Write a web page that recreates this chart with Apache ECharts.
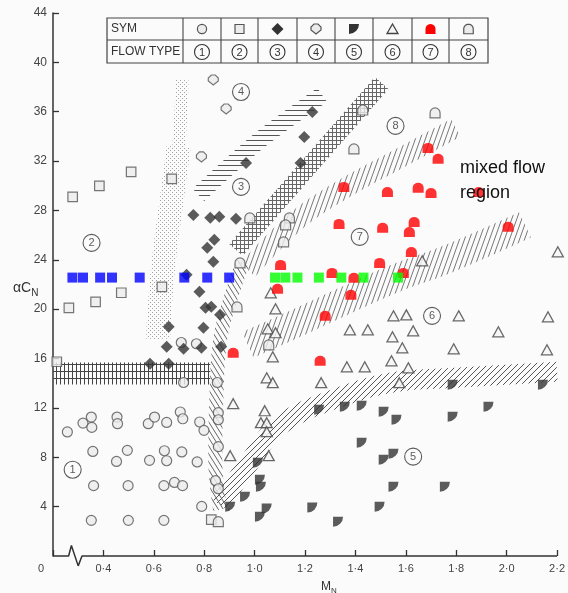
<!DOCTYPE html>
<html><head><meta charset="utf-8">
<script src="https://cdn.jsdelivr.net/npm/echarts@6/dist/echarts.min.js"></script>
<style>html,body{margin:0;padding:0;background:#fbfbfb}#c{width:568px;height:593px}</style>
</head><body><div id="c"></div>
<script>
// ---------------- data (x = M_N, y = αC_N) ----------------
const xTicks = [0.2,0.4,0.6,0.8,1.0,1.2,1.4,1.6,1.8,2.0,2.2];
const yTicks = [4,8,12,16,20,24,28,32,36,40,44];
const flowTypes = ['1','2','3','4','5','6','7','8'];

const type1 = [[0.257,10.05],[0.319,10.77],[0.352,11.26],[0.354,10.42],[0.454,11.26],[0.456,10.72],[0.578,10.72],[0.603,11.26],[0.651,10.82],[0.705,11.67],[0.715,11.12],[0.782,10.86],[0.799,10.18],[0.856,11.61],[0.856,11.04],[0.358,8.47],[0.495,8.56],[0.642,8.53],[0.711,8.43],[0.452,7.66],[0.583,7.75],[0.651,7.72],[0.772,7.62],[0.361,5.70],[0.498,5.70],[0.640,5.70],[0.682,5.96],[0.714,5.70],[0.845,6.10],[0.856,5.45],[0.790,4.02],[0.352,2.89],[0.499,2.89],[0.640,2.89],[0.709,17.30],[0.769,17.20],[0.718,14.06],[0.852,14.06],[0.856,8.86]];
const type2 = [[0.278,29.10],[0.384,29.99],[0.510,31.12],[0.671,30.56],[0.263,20.11],[0.369,20.60],[0.471,21.33],[0.632,21.81],[0.215,15.74],[0.828,2.94]];
const type3 = [[1.229,35.98],[1.197,33.96],[0.966,31.85],[1.182,31.85],[0.757,27.64],[0.824,27.40],[0.860,27.48],[0.926,27.32],[0.840,25.62],[0.812,24.97],[0.836,23.84],[0.730,22.78],[0.781,21.41],[0.805,20.11],[0.828,20.19],[0.863,19.54],[0.797,18.49],[0.659,18.57],[0.651,16.95],[0.718,16.79],[0.789,16.87],[0.867,16.95],[0.585,15.58],[0.659,15.58]];
const type4 = [[0.836,38.57],[0.887,36.22],[0.789,32.34]];
const type5 = [[1.013,7.56],[1.021,6.18],[1.025,5.62],[0.962,4.81],[0.903,4.00],[1.021,3.19],[1.048,3.84],[1.256,11.85],[1.358,12.09],[1.425,12.18],[1.512,11.69],[1.563,11.04],[1.425,9.18],[1.786,13.88],[2.144,13.88],[1.786,11.28],[1.928,12.09],[1.512,7.80],[1.551,8.29],[1.551,5.62],[1.755,5.62],[1.496,4.00],[1.229,3.92],[1.331,2.78]];
const type6 = [[1.665,23.92],[2.203,24.65],[1.064,21.33],[1.083,20.03],[1.052,18.41],[1.083,18.09],[1.072,16.14],[1.048,14.44],[1.072,14.04],[1.264,14.04],[1.366,15.33],[1.437,15.33],[1.378,18.33],[1.449,18.33],[1.551,19.46],[1.602,19.54],[1.810,19.46],[2.164,19.38],[1.629,18.25],[1.967,18.17],[1.547,17.76],[1.586,16.87],[1.790,16.79],[2.160,16.71],[1.543,15.82],[1.610,15.25],[1.574,14.04],[0.915,12.34],[1.040,11.77],[1.025,10.80],[1.048,10.80],[1.048,10.07],[0.903,8.13],[1.056,8.13]];
const type7 = [[1.688,33.07],[1.728,32.18],[1.354,29.91],[1.527,29.50],[1.649,29.83],[1.700,29.42],[1.889,29.50],[1.335,26.91],[1.508,26.59],[1.633,27.07],[1.614,26.26],[2.006,26.67],[1.622,24.64],[1.496,23.75],[1.590,22.94],[1.103,23.59],[1.307,22.94],[1.394,22.54],[1.091,21.65],[1.382,21.16],[1.280,19.46],[0.915,16.47],[1.260,15.82]];
const type8 = [[1.429,36.14],[1.394,32.99],[1.716,35.90],[0.981,27.40],[1.138,27.40],[1.123,26.83],[1.115,25.45],[0.942,23.75],[0.930,20.19],[1.056,17.11],[0.856,2.78]];

const markY = 22.56;
const blueX = [0.277,0.319,0.387,0.434,0.544,0.721,0.812,0.899];
const greenX = [1.081,1.122,1.170,1.255,1.344,1.432,1.569];

// region labels (circled flow type numbers)
const regionX = [0.278,0.353,0.946,0.946,1.629,1.704,1.417,1.559];
const regionY = [6.99,25.37,29.91,37.60,8.05,19.46,25.86,34.85];

// boundary bands
const bandA = [[0.2,14.78],[0.824,14.78]];
const bandB = [[0.712,38.57],[0.699,33.20],[0.671,28.86],[0.640,24.00],[0.620,19.14],[0.618,17.60]];
const bandC = [[0.777,29.26],[1.021,33.71],[1.268,37.36]];
const bandD = [[0.926,24.81],[1.504,38.33]];
const bandE = [[0.973,23.19],[1.170,27.24],[1.347,29.67],[1.563,32.09],[1.798,34.69]];
const bandG = [[0.973,17.11],[1.170,18.90],[1.366,20.76],[1.563,22.54],[1.759,24.00],[2.073,26.83]];
const bandV = [[0.954,23.84],[0.903,20.76],[0.863,17.52],[0.848,12.66],[0.844,7.80],[0.863,3.75]];
const bandF = [[0.863,4.16],[0.973,7.40],[1.103,10.64],[1.366,13.07],[1.563,14.12],[1.798,14.44],[2.2,14.93]];

// x axis with break
const breakX = [0.2,0.262,0.273,0.300,0.315,2.2];
const breakY = [0,0,0.85,-0.8,0,0];

// ---------------- styling helpers ----------------
function pat(w,h,fn,col){const c=document.createElement('canvas');c.width=w;c.height=h;const g=c.getContext('2d');g.strokeStyle=col||'#555';g.lineWidth=1;fn(g,w,h);return {image:c,repeat:'repeat'};}
function seg(g,a,b,c,d){g.beginPath();g.moveTo(a,b);g.lineTo(c,d);g.stroke();}
const P = {
  horiz: pat(6,5,(g,w)=>seg(g,0,0.5,w,0.5),'#555'),
  grid: pat(4,4,(g,w,h)=>{seg(g,0,0.5,w,0.5);seg(g,0.5,0,0.5,h);},'#666'),
  gridA: pat(4,7,(g,w,h)=>{seg(g,0,0.5,w,0.5);seg(g,0.5,0,0.5,h);},'#444'),
  steep: pat(5,14,(g,w,h)=>{for(let k=-1;k<=1;k++)seg(g,w*(k+1),0,w*k,h);},'#777'),
  slash: pat(6,6,(g,w,h)=>{for(let k=-1;k<=1;k++)seg(g,w*(k+1),0,w*k,h);},'#555'),
  back: pat(5,8,(g,w,h)=>{for(let k=-1;k<=1;k++)seg(g,w*k,0,w*(k+1),h);},'#666'),
  dots: pat(4,4,(g)=>{g.fillStyle='#a0a0a0';g.fillRect(0,0,1,1);g.fillRect(2,2,1,1);})
};
const S = {
  square:'M0 0H10V10H0Z',
  diamond:'M5 0L10 5L5 10L0 5Z',
  balloon:'M3 0H7L10 3V6L5 10L0 6V3Z',
  quarter:'M0 0H10A10 10 0 0 1 0 10Z',
  tri:'M5 0L10 9H0Z',
  dome:'M0 10V5A5 5 0 0 1 10 5V10Z'
};
function band(data,width,color,smooth){
  return {type:'line',data,showSymbol:false,symbol:'none',smooth:smooth||0,silent:true,z:1,
    lineStyle:{color,width,cap:'butt',join:'round'},emphasis:{disabled:true}};
}
function sc(data,symbol,size,style,z){
  return {type:'scatter',data,symbol,symbolSize:size,itemStyle:style,z:z||3,silent:true,clip:false};
}
const light={color:'#ececec',borderColor:'#555',borderWidth:1.2};

// ---------------- legend table (graphic) ----------------
const colX=[183,221,258,297,335,373,412,449,488];
function domePts(cx,cy,w){const r=w/2,pts=[[cx-r,cy+r]];for(let a=180;a<=360;a+=15){const t=a*Math.PI/180;pts.push([cx+r*Math.cos(t),cy+Math.sin(t)*r]);}pts.push([cx+r,cy+r]);return pts;}
const g=[];
g.push({type:'rect',shape:{x:107,y:18,width:381,height:45},style:{fill:'#fbfbfb',stroke:'#444',lineWidth:1.2},z:10});
g.push({type:'line',shape:{x1:107,y1:40,x2:488,y2:40},style:{stroke:'#444',lineWidth:1.1},z:11});
colX.slice(0,8).forEach(x=>g.push({type:'line',shape:{x1:x,y1:18,x2:x,y2:63},style:{stroke:'#444',lineWidth:1.1},z:11}));
g.push({type:'text',x:111,y:29,style:{text:'SYM',font:'12px "Liberation Sans", Arial',fill:'#333',verticalAlign:'middle'},z:12});
g.push({type:'text',x:111,y:52,style:{text:'FLOW TYPE',font:'12px "Liberation Sans", Arial',fill:'#333',verticalAlign:'middle'},z:12});
const cxs=colX.slice(0,8).map((x,i)=>(x+colX[i+1])/2);
const cy=29;
g.push({type:'circle',shape:{cx:cxs[0],cy,r:4.6},style:{fill:'#ececec',stroke:'#555',lineWidth:1.2},z:12});
g.push({type:'rect',shape:{x:cxs[1]-4.5,y:cy-4.5,width:9,height:9},style:{fill:'#ececec',stroke:'#555',lineWidth:1.2},z:12});
g.push({type:'polygon',shape:{points:[[cxs[2],cy-6],[cxs[2]+6,cy],[cxs[2],cy+6],[cxs[2]-6,cy]]},style:{fill:'#333'},z:12});
g.push({type:'polygon',shape:{points:[[cxs[3]-2,cy-5],[cxs[3]+2,cy-5],[cxs[3]+5,cy-2],[cxs[3]+5,cy+1],[cxs[3],cy+5],[cxs[3]-5,cy+1],[cxs[3]-5,cy-2]]},style:{fill:'#ececec',stroke:'#555',lineWidth:1.2},z:12});
g.push({type:'sector',shape:{cx:cxs[4]-5,cy:cy-5,r0:0,r:10,startAngle:0,endAngle:Math.PI/2},style:{fill:'#333'},z:12});
g.push({type:'polygon',shape:{points:[[cxs[5],cy-5],[cxs[5]+5.5,cy+4.5],[cxs[5]-5.5,cy+4.5]]},style:{fill:'#f6f6f6',stroke:'#444',lineWidth:1.3},z:12});
g.push({type:'polygon',shape:{points:domePts(cxs[6],cy,10)},style:{fill:'#f00'},z:12});
g.push({type:'polygon',shape:{points:domePts(cxs[7],cy,9.5)},style:{fill:'#ececec',stroke:'#555',lineWidth:1.2},z:12});
cxs.forEach((cx,i)=>{
  g.push({type:'circle',shape:{cx,cy:52,r:7.5},style:{fill:'none',stroke:'#333',lineWidth:1.1},z:12});
  g.push({type:'text',x:cx,y:52.5,style:{text:flowTypes[i],font:'11px "Liberation Sans", Arial',fill:'#333',align:'center',verticalAlign:'middle'},z:13});
});
g.push({type:'text',x:460,y:156,style:{text:'mixed flow\nregion',font:'18px "Liberation Sans", Arial',lineHeight:25,fill:'#111'},z:12});
g.push({type:'text',x:13,y:278,style:{text:'{a|αC}{s|N}',rich:{a:{fontSize:14,fill:'#333',fontFamily:'Liberation Sans'},s:{fontSize:10,fill:'#333',fontFamily:'Liberation Sans',padding:[10,0,0,0]}}},z:12});
g.push({type:'text',x:321,y:579,style:{text:'{a|M}{s|N}',rich:{a:{fontSize:12,fill:'#333',fontFamily:'Liberation Sans'},s:{fontSize:8,fill:'#333',fontFamily:'Liberation Sans',padding:[8,0,0,0]}}},z:12});

// ---------------- chart ----------------
const chart = echarts.init(document.getElementById('c'),null,{renderer:'canvas'});
chart.setOption({
  animation:false,
  backgroundColor:'#fbfbfb',
  grid:{left:53,right:7,top:13,bottom:37,containLabel:false},
  xAxis:{type:'value',min:xTicks[0],max:xTicks[xTicks.length-1],interval:0.2,
    axisLine:{show:false},splitLine:{show:false},
    axisTick:{inside:true,length:6,lineStyle:{color:'#333',width:1.3}},
    axisLabel:{margin:7,fontSize:11,color:'#444',fontFamily:'Liberation Sans',
      formatter:v=>Math.abs(v-0.2)<1e-6?'{z|0}':v.toFixed(1).replace('.','·'),
      rich:{z:{fontSize:11,color:'#444',padding:[0,24,0,0]}}}},
  yAxis:{type:'value',min:0,max:yTicks[yTicks.length-1],interval:4,
    axisLine:{show:true,lineStyle:{color:'#333',width:1.5}},splitLine:{show:false},
    axisTick:{inside:true,length:6,lineStyle:{color:'#333',width:1.3}},
    axisLabel:{margin:6,fontSize:12,color:'#444',fontFamily:'Liberation Sans',showMinLabel:false}},
  graphic:{elements:g},
  series:[
    band(bandA,22,P.gridA,0),
    band(bandB,13,P.dots,0.4),
    band(bandB.slice(1),24,P.dots,0.4),
    band(bandC,17,P.horiz,0.3),
    band(bandD,18,P.grid,0),
    band(bandE,20,P.steep,0.4),
    band(bandG,28,P.steep,0.4),
    band(bandV,14,P.back,0.4),
    band(bandF,20,P.slash,0.4),
    {type:'line',data:breakX.map((x,i)=>[x,breakY[i]]),showSymbol:false,symbol:'none',clip:false,silent:true,z:4,
      lineStyle:{color:'#333',width:1.5}},
    sc(type1,'circle',10,light),
    sc(type2,'path://'+S.square,9.5,light),
    sc(type3,'path://'+S.diamond,12,{color:'#333'}),
    sc(type4,'path://'+S.balloon,10,light),
    sc(type5,'path://'+S.quarter,10,{color:'#333'}),
    sc(type6,'path://'+S.tri,[11,10],{color:'#f6f6f6',borderColor:'#444',borderWidth:1.3}),
    sc(type7,'path://'+S.dome,[11,10],{color:'#f00'}),
    sc(type8,'path://'+S.dome,[10,10],light),
    sc(blueX.map(x=>[x,markY]),'rect',10,{color:'#0000ff'},5),
    sc(greenX.map(x=>[x,markY]),'rect',10,{color:'#00ff00'},5),
    {type:'scatter',data:regionX.map((x,i)=>({value:[x,regionY[i]],name:flowTypes[i]})),symbol:'circle',symbolSize:17,silent:true,z:6,
      itemStyle:{color:'rgba(0,0,0,0)',borderColor:'#333',borderWidth:1.1},
      label:{show:true,position:'inside',formatter:'{b}',fontSize:11,color:'#333',fontFamily:'Liberation Sans'}}
  ]
});
</script></body></html>
